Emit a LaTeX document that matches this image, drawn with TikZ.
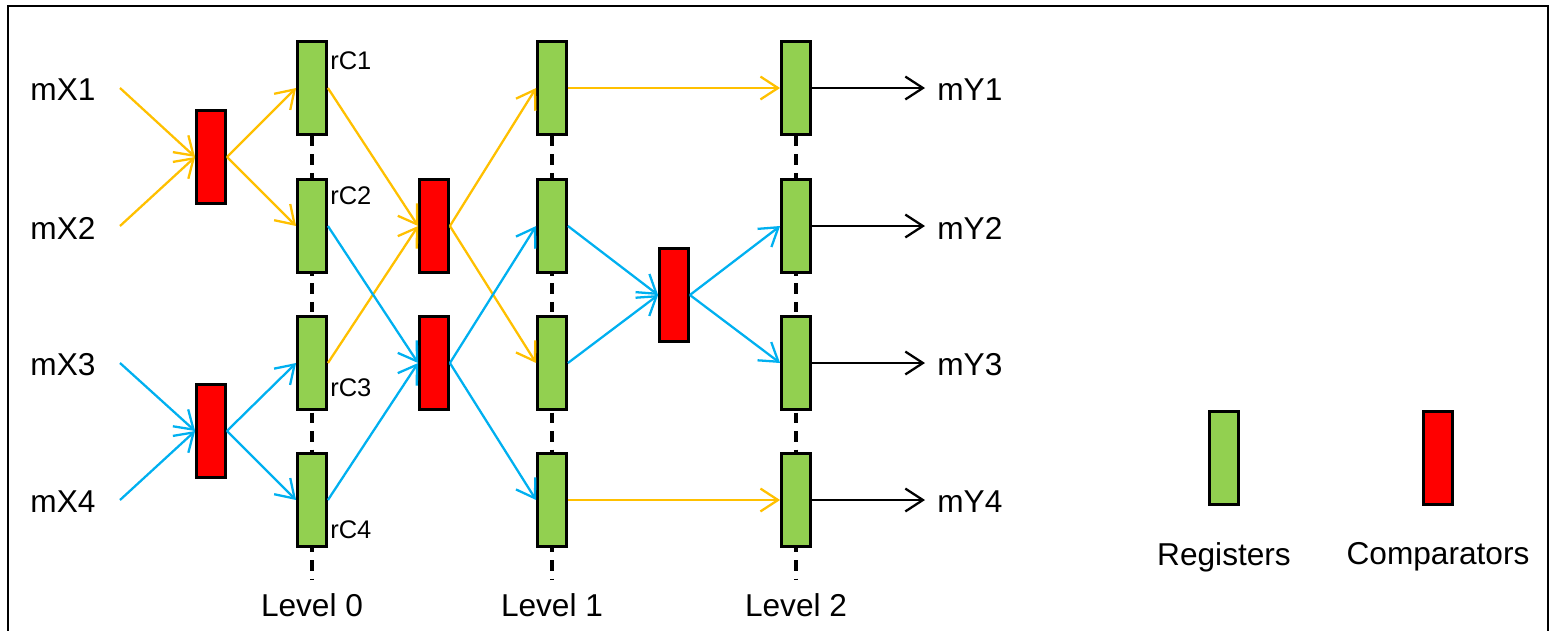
\documentclass[tikz,border=0pt]{standalone}
\usepackage{fontspec}
\setmainfont{Liberation Sans}
\usetikzlibrary{arrows.meta,backgrounds}
\definecolor{regfill}{HTML}{92D050}
\definecolor{cmpfill}{HTML}{FF0000}
\definecolor{orng}{HTML}{FFC000}
\definecolor{skyb}{HTML}{00B0F0}
\tikzset{
	>={Straight Barb[length=10pt,width=13pt]},
	reg/.style={draw=black, line width=1.6pt, fill=regfill, minimum width=0.58cm, minimum height=1.86cm, inner sep=0pt},
	cmp/.style={reg, fill=cmpfill},
	lbl/.style={font=\fontsize{18}{21}\selectfont, inner sep=0pt},
	tag/.style={font=\fontsize{14.5}{17}\selectfont, inner sep=0pt, anchor=west},
	ora/.style={draw=orng, line width=1.3pt, ->},
	blu/.style={draw=skyb, line width=1.3pt, ->},
	blk/.style={draw=black, line width=1.3pt, ->},
	lvl/.style={line width=1.9pt, dash pattern=on 6pt off 4.5pt}
}

\begin{document}
\begin{tikzpicture}[x=0.02cm, y=-0.02cm]
				\useasboundingbox (0,0) rectangle (1551,630);
				\draw[line width=1.5pt] (8,6) rectangle (1548,660);
				
				% inputs
				\node[lbl] (x1) at (63,90) {mX1};
				\node[lbl] (x2) at (63,228) {mX2};
				\node[lbl] (x3) at (63,365) {mX3};
				\node[lbl] (x4) at (63,502) {mX4};
				\coordinate (s1) at (120,88);
				\coordinate (s2) at (120,226);
				\coordinate (s3) at (120,363);
				\coordinate (s4) at (120,500);
				
				% registers
				\node[reg] (r01) at (312,88) {};
				\node[reg] (r02) at (312,226) {};
				\node[reg] (r03) at (312,363) {};
				\node[reg] (r04) at (312,500) {};
				\node[reg] (r11) at (552,88) {};
				\node[reg] (r12) at (552,226) {};
				\node[reg] (r13) at (552,363) {};
				\node[reg] (r14) at (552,500) {};
				\node[reg] (r21) at (796,88) {};
				\node[reg] (r22) at (796,226) {};
				\node[reg] (r23) at (796,363) {};
				\node[reg] (r24) at (796,500) {};
				
				% comparators
				\node[cmp] (c1) at (211,157) {};
				\node[cmp] (c2) at (211,431) {};
				\node[cmp] (c3) at (434,226) {};
				\node[cmp] (c4) at (434,363) {};
				\node[cmp] (c5) at (674,295) {};
				
				\node[tag] (t1) at (330,61) {rC1};
				\node[tag] (t2) at (330,196) {rC2};
				\node[tag] (t3) at (330,388) {rC3};
				\node[tag] (t4) at (330,530) {rC4};
				
				\node[lbl] (lv0) at (312,605) {Level 0};
				\node[lbl] (lv1) at (552,605) {Level 1};
				\node[lbl] (lv2) at (796,605) {Level 2};
				\coordinate (e0) at (312,580);
				\coordinate (e1) at (552,580);
				\coordinate (e2) at (796,580);
				
				\begin{scope}[on background layer]
					\draw[lvl] (r01.south) -- (e0);
					\draw[lvl] (r11.south) -- (e1);
					\draw[lvl] (r21.south) -- (e2);
				\end{scope}
				
				% outputs
				\node[lbl, anchor=west] (y1) at (937,90) {mY1};
				\node[lbl, anchor=west] (y2) at (937,228) {mY2};
				\node[lbl, anchor=west] (y3) at (937,365) {mY3};
				\node[lbl, anchor=west] (y4) at (937,502) {mY4};
				\coordinate (o1) at (925,88);
				\coordinate (o2) at (925,226);
				\coordinate (o3) at (925,363);
				\coordinate (o4) at (925,500);
				
				\draw[ora] (s1) -- (c1.west);
				\draw[ora] (s2) -- (c1.west);
				\draw[ora] (c1.east) -- (r01.west);
				\draw[ora] (c1.east) -- (r02.west);
				\draw[blu] (s3) -- (c2.west);
				\draw[blu] (s4) -- (c2.west);
				\draw[blu] (c2.east) -- (r03.west);
				\draw[blu] (c2.east) -- (r04.west);
				
				\draw[ora] (r01.east) -- (c3.west);
				\draw[ora] (r03.east) -- (c3.west);
				\draw[blu] (r02.east) -- (c4.west);
				\draw[blu] (r04.east) -- (c4.west);
				\draw[ora] (c3.east) -- (r11.west);
				\draw[ora] (c3.east) -- (r13.west);
				\draw[blu] (c4.east) -- (r12.west);
				\draw[blu] (c4.east) -- (r14.west);
				
				\draw[ora] (r11.east) -- (r21.west);
				\draw[ora] (r14.east) -- (r24.west);
				\draw[blu] (r12.east) -- (c5.west);
				\draw[blu] (r13.east) -- (c5.west);
				\draw[blu] (c5.east) -- (r22.west);
				\draw[blu] (c5.east) -- (r23.west);
				
				\draw[blk] (r21.east) -- (o1);
				\draw[blk] (r22.east) -- (o2);
				\draw[blk] (r23.east) -- (o3);
				\draw[blk] (r24.east) -- (o4);
				
				% legend
				\node[reg] (kreg) at (1224,458) {};
				\node[cmp] (kcmp) at (1438,458) {};
				\node[lbl] (kr) at (1224,557) {Registers};
				\node[lbl] (kc) at (1438,557) {Comparators};
\end{tikzpicture}
\end{document}
